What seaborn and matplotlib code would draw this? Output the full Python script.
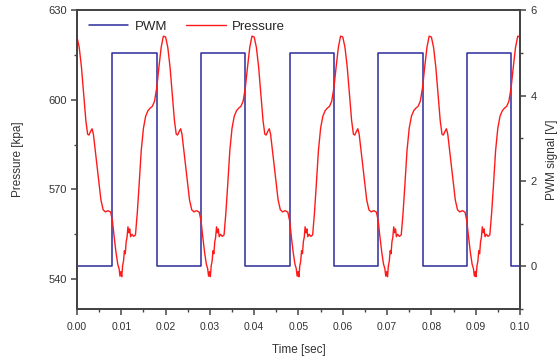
import numpy as np
import pandas as pd
import matplotlib
matplotlib.use('Agg')
import matplotlib.pyplot as plt
import seaborn as sns
from matplotlib.lines import Line2D
from matplotlib.ticker import MultipleLocator

# one pressure cycle (time inside the cycle [s], kPa)
cycle_time = [0.0000, 0.0005, 0.0010, 0.0015, 0.0020, 0.0024, 0.0027, 0.0031,
              0.0034, 0.0037, 0.0042, 0.0048, 0.0054, 0.0059, 0.0064, 0.0070,
              0.0076, 0.0080, 0.0084, 0.0088, 0.0092, 0.0095, 0.0097, 0.0099,
              0.0101, 0.0103, 0.0105, 0.0107, 0.0109, 0.0111, 0.0113, 0.0115,
              0.0117, 0.0119, 0.0121, 0.0124, 0.0128, 0.0132, 0.0136, 0.0140,
              0.0145, 0.0150, 0.0155, 0.0160, 0.0165, 0.0170, 0.0175, 0.0180,
              0.0185, 0.0190, 0.0195]
cycle_pressure = [621.0, 617.5, 611.0, 602.0, 593.0, 588.5, 588.2, 589.5,
                  590.3, 588.5, 582.0, 574.0, 566.5, 563.2, 562.5, 562.9,
                  562.4, 559.5, 554.0, 549.0, 545.0, 543.5, 541.0, 542.5,
                  540.8, 544.5, 546.0, 549.5, 548.5, 552.5, 554.0, 557.5,
                  555.5, 556.8, 554.2, 555.0, 554.3, 554.8, 562.0, 571.0,
                  583.0, 590.5, 594.5, 596.3, 597.2, 597.8, 599.5, 604.0,
                  611.0, 617.5, 621.3]
cycle_starts = [0.00, 0.02, 0.04, 0.06, 0.08]
end_time = 0.10
end_pressure = 621.0

# PWM switching instants and levels (step, held until next instant)
pwm_time = [0.000, 0.008, 0.018, 0.028, 0.038, 0.048, 0.058, 0.068, 0.078, 0.088, 0.098, 0.100]
pwm_level = [0, 5, 0, 5, 0, 5, 0, 5, 0, 5, 0, 0]

x_ticks = [0.00, 0.01, 0.02, 0.03, 0.04, 0.05, 0.06, 0.07, 0.08, 0.09, 0.10]

# build the tables
t_all = [s + t for s in cycle_starts for t in cycle_time] + [end_time]
p_all = cycle_pressure * len(cycle_starts) + [end_pressure]
press = pd.DataFrame({'t': t_all, 'p': p_all})
pwm = pd.DataFrame({'t': pwm_time, 'v': pwm_level})

sns.set_style('ticks')
plt.rcParams['font.family'] = ['Liberation Sans', 'DejaVu Sans']

fig = plt.figure(figsize=(5.6, 3.61), dpi=100)
ax = fig.add_axes([0.1375, 0.144, 0.791, 0.828])
ax2 = ax.twinx()

red = '#ff1a1a'
blue = '#2b2b9c'
sns.lineplot(data=pwm, x='t', y='v', ax=ax2, color=blue, lw=1.1, drawstyle='steps-post')
sns.lineplot(data=press, x='t', y='p', ax=ax, color=red, lw=1.0)
ax.set_zorder(ax2.get_zorder() + 1)
ax.patch.set_visible(False)

ax.set_xlim(0, 0.1)
ax.set_ylim(530, 630)
ax2.set_ylim(-1, 6)
ax.set_xticks(x_ticks)
ax.set_xticklabels([f'{v:.2f}' for v in x_ticks])
ax.xaxis.set_minor_locator(MultipleLocator(0.005))
ax.set_yticks([540, 570, 600, 630])
ax.yaxis.set_minor_locator(MultipleLocator(15))
ax2.set_yticks([0, 2, 4, 6])
ax2.yaxis.set_minor_locator(MultipleLocator(1))

edge = '#444444'
for a in (ax, ax2):
    for sp in a.spines.values():
        sp.set_visible(True)
        sp.set_color(edge)
        sp.set_linewidth(1.4)
    a.tick_params(which='major', length=4, width=1.1, color=edge, labelsize=8, labelcolor='#333333')
    a.tick_params(which='minor', length=2.5, width=1.0, color=edge)
ax.tick_params(axis='x', labelsize=7.5, pad=5)

ax.set_xlabel('Time [sec]', fontsize=8.5, color='#333333', labelpad=9)
ax.set_ylabel('Pressure [kpa]', fontsize=8.5, color='#333333', labelpad=17)
ax2.set_ylabel('PWM signal [V]', fontsize=8.5, color='#333333', labelpad=7)

handles = [Line2D([], [], color=blue, lw=1.1), Line2D([], [], color=red, lw=1.0)]
ax.legend(handles, ['PWM', 'Pressure'], ncol=2, frameon=False, loc='upper left',
          bbox_to_anchor=(0.0, 1.005), fontsize=9.5, handlelength=3.0, columnspacing=1.4,
          handletextpad=0.5)

fig.savefig('out.png', dpi=100)
